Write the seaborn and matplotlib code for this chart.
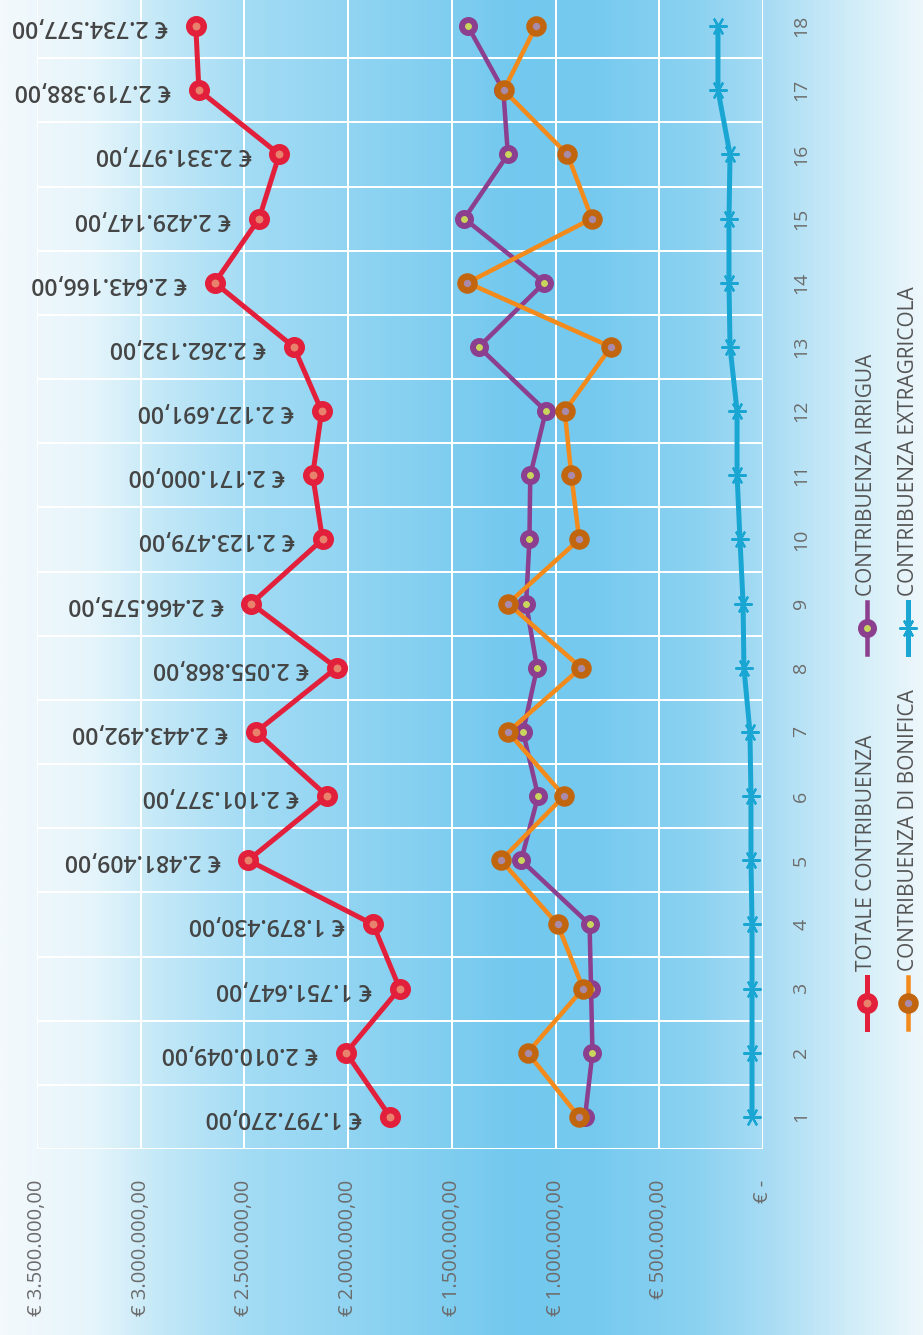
import numpy as np
import pandas as pd
import matplotlib
matplotlib.use("Agg")
import matplotlib.pyplot as plt
import seaborn as sns
from matplotlib.colors import LinearSegmentedColormap
from matplotlib.lines import Line2D

# ---------------- data ----------------
categories = list(range(1, 19))
totale = [1797270, 2010049, 1751647, 1879430, 2481409, 2101377, 2443492, 2055868, 2466575,
          2123479, 2171000, 2127691, 2262132, 2643166, 2429147, 2331977, 2719388, 2734577]
bonifica = [887000, 1135000, 867000, 990000, 1263000, 959000, 1229000, 877000, 1229000,
            886000, 924000, 956000, 733000, 1425000, 825000, 943000, 1250000, 1094000]
irrigua = [858000, 822000, 829000, 836000, 1166000, 1084000, 1157000, 1089000, 1142000,
           1126000, 1122000, 1047000, 1370000, 1054000, 1440000, 1230000, 1252000, 1423000]
extragricola = [53000, 53000, 53000, 53000, 58000, 58000, 63000, 92000, 96000,
                111000, 125000, 125000, 159000, 164000, 164000, 159000, 217000, 217000]
value_ticks = [0, 500000, 1000000, 1500000, 2000000, 2500000, 3000000, 3500000]
legend_labels = ["TOTALE CONTRIBUENZA", "CONTRIBUENZA DI BONIFICA",
                 "CONTRIBUENZA IRRIGUA", "CONTRIBUENZA EXTRAGRICOLA"]


def fmt_eur(v):
    if v == 0:
        return "€ -"
    s = f"{int(v):,}".replace(",", ".")
    return f"€ {s},00"


# ---------------- figure ----------------
W, H = 923, 1335
fig = plt.figure(figsize=(W / 100, H / 100), dpi=100)

# background gradient
stops = [(0, "#f3f9fc"), (90, "#e6f5fb"), (160, "#c3e8f7"), (250, "#a2dbf4"),
         (400, "#88d1f1"), (520, "#72c8ee"), (600, "#77caef"), (700, "#8cd2f1"),
         (770, "#a8dcf4"), (850, "#cfecf8"), (923, "#ecf7fb")]
cmap = LinearSegmentedColormap.from_list("bg", [(p / W, c) for p, c in stops])
bg = fig.add_axes([0, 0, 1, 1], zorder=-5)
grad = np.linspace(0, 1, 600)[None, :]
bg.imshow(grad, aspect="auto", cmap=cmap, extent=[0, 1, 0, 1], vmin=0, vmax=1)
bg.axis("off")

ax = fig.add_axes([37 / W, 186 / H, 726 / W, 1155 / H], zorder=1)
ax.set_facecolor("none")

RED, RED_F = "#e2203b", "#e8826c"
ORA, ORA_E, ORA_F = "#f28a1c", "#c2650f", "#a98aa8"
PUR, PUR_F = "#8b3f8e", "#c9d65c"
CYA = "#1aa6d3"

px = 0.72  # points per pixel at 100 dpi

df = pd.DataFrame({"cat": categories, "totale": totale, "bonifica": bonifica,
                   "irrigua": irrigua, "extra": extragricola})

sns.lineplot(data=df, x="extra", y="cat", orient="y", sort=False, ax=ax,
             color=CYA, lw=5 * px, marker=(6, 2, 90), ms=18 * px, mec=CYA, mew=2.2 * px)
sns.lineplot(data=df, x="irrigua", y="cat", orient="y", sort=False, ax=ax,
             color=PUR, lw=4.5 * px, marker="o", ms=13 * px, mfc=PUR_F, mec=PUR, mew=6 * px)
sns.lineplot(data=df, x="bonifica", y="cat", orient="y", sort=False, ax=ax,
             color=ORA, lw=4.5 * px, marker="o", ms=14 * px, mfc=ORA_F, mec=ORA_E, mew=6.5 * px)
sns.lineplot(data=df, x="totale", y="cat", orient="y", sort=False, ax=ax,
             color=RED, lw=5 * px, marker="o", ms=14.5 * px, mfc=RED_F, mec=RED, mew=6.5 * px)

for v, c in zip(totale, categories):
    ax.annotate(fmt_eur(v), xy=(v, c), xytext=(-20, 0), textcoords="offset points",
                rotation=180, rotation_mode="anchor", ha="left", va="center",
                fontsize=16.5, fontweight="semibold", color="#444444", family="Open Sans")

ax.set_xlim(3500000, 0)
ax.set_ylim(0.5, 18.5)
ax.set_xticks(value_ticks)
ax.set_xticklabels([fmt_eur(v) for v in value_ticks])
ax.set_yticks(categories)
ax.set_yticklabels([str(c) for c in categories])
ax.set_yticks(np.arange(0.5, 19, 1), minor=True)
ax.yaxis.tick_right()
ax.set_xlabel("")
ax.set_ylabel("")
ax.grid(False)
ax.xaxis.grid(True, color="white", lw=2 * px, zorder=0)
ax.yaxis.grid(True, which="minor", color="white", lw=2 * px, zorder=0)
ax.set_axisbelow(True)
for s in ax.spines.values():
    s.set_visible(False)
ax.tick_params(axis="x", length=0, pad=22, labelsize=14.5, labelcolor="#6c6c6c",
               labelrotation=90)
ax.tick_params(axis="y", which="both", length=0, pad=21, labelsize=14,
               labelcolor="#6c6c6c", labelrotation=90)
for t in ax.get_xticklabels() + ax.get_yticklabels():
    t.set_family("Open Sans")
    t.set_fontweight("normal")
for t in ax.get_yticklabels():
    t.set_va("center")

# ---------------- legend (rotated, manual) ----------------
def F(x, y):
    return x / W, 1 - y / H

leg = [
    (867, 1003, legend_labels[0], dict(color=RED, marker="o", ms=14.5 * px, mfc=RED_F, mec=RED, mew=6.5 * px), 5 * px),
    (908, 1003, legend_labels[1], dict(color=ORA, marker="o", ms=14 * px, mfc=ORA_F, mec=ORA_E, mew=6.5 * px), 4.5 * px),
    (867, 628, legend_labels[2], dict(color=PUR, marker="o", ms=13 * px, mfc=PUR_F, mec=PUR, mew=6 * px), 4.5 * px),
    (908, 628, legend_labels[3], dict(color=CYA, marker=(6, 2, 90), ms=18 * px, mec=CYA, mew=2.2 * px), 5 * px),
]
for x, y, lab, mk, lw in leg:
    x0, y0 = F(x, y - 26)
    x1, y1 = F(x, y + 26)
    fig.add_artist(Line2D([x0, x1], [y0, y1], transform=fig.transFigure,
                          color=mk["color"], lw=lw))
    xm, ym = F(x, y)
    fig.add_artist(Line2D([xm], [ym], transform=fig.transFigure, ls="none", **mk))
    xt, yt = F(x, y - 32)
    fig.text(xt, yt, lab, rotation=90, ha="center", va="bottom", fontsize=15,
             color="#555555", family="Open Sans", fontweight="normal")

fig.savefig("out.png", dpi=100)
